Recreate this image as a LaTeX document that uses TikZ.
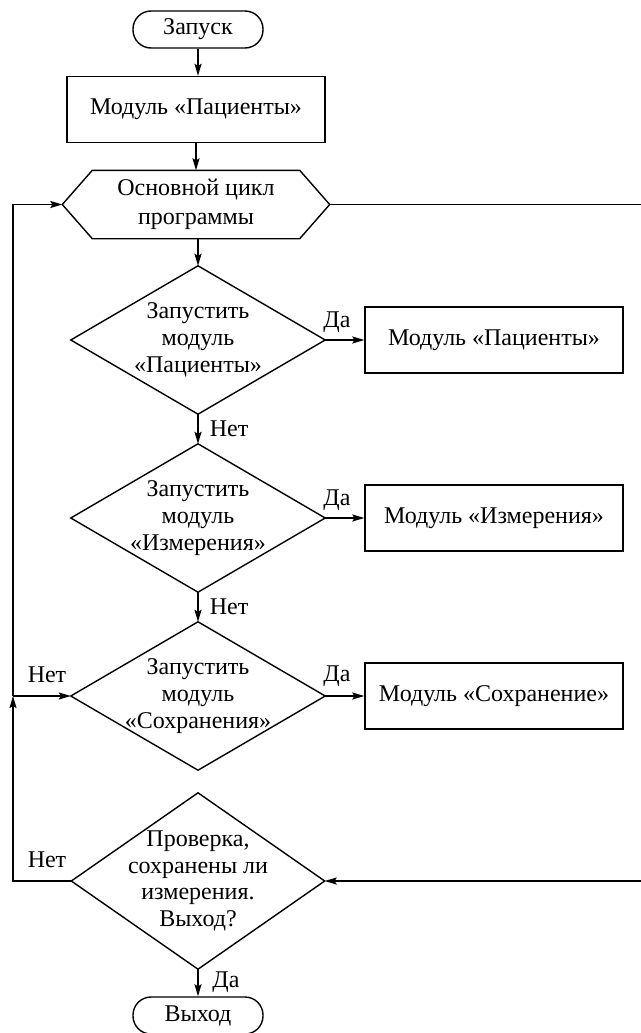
\documentclass[tikz,border=0pt]{standalone}
\usepackage{fontspec}
\setmainfont{Liberation Serif}
\usetikzlibrary{arrows.meta}
\begin{document}
\begin{tikzpicture}[x=1pt,y=1pt, line width=1.4pt,
  every node/.style={font=\fontsize{24}{26.7}\selectfont},
  term/.style={draw, rectangle, rounded corners=18pt, minimum width=130pt, minimum height=37pt, inner sep=0pt},
  proc/.style={draw, rectangle, minimum width=258pt, minimum height=66pt, inner sep=0pt},
  dia/.style={rectangle, minimum width=253pt, minimum height=147pt, inner sep=0pt, align=center},
  hexa/.style={rectangle, minimum width=266pt, minimum height=67pt, inner sep=0pt, align=center, font=\fontsize{24}{29}\selectfont},
  lbl/.style={inner sep=0pt},
  arr/.style={-{Stealth[length=12pt,width=7pt,inset=2pt]}},
]
\useasboundingbox (0,0) rectangle (640,-1033);

\node[term] (start) at (198,-29.5) {Запуск};
\node[proc] (p0) at (196,-109.5) {Модуль «Пациенты»};
\node[hexa] (hex) at (196,-204.5) {Основной цикл\\программы};
\draw (hex.west) -- ([xshift=30pt]hex.north west) -- ([xshift=-30pt]hex.north east) -- (hex.east)
      -- ([xshift=-30pt]hex.south east) -- ([xshift=30pt]hex.south west) -- cycle;

\node[dia] (d1) at (198,-340) {Запустить\\модуль\\«Пациенты»};
\node[dia] (d2) at (198,-518) {Запустить\\модуль\\«Измерения»};
\node[dia] (d3) at (198,-696) {Запустить\\модуль\\«Сохранения»};
\node[dia, minimum height=175pt, minimum width=252pt] (d4) at (198,-881) {Проверка,\\сохранены ли\\измерения.\\Выход?};
\foreach \n in {d1,d2,d3,d4}
  \draw (\n.north) -- (\n.east) -- (\n.south) -- (\n.west) -- cycle;

\node[proc] (m1) at (494,-340) {Модуль «Пациенты»};
\node[proc] (m2) at (494,-518) {Модуль «Измерения»};
\node[proc] (m3) at (494,-696) {Модуль «Сохранение»};

\node[term] (stop) at (198,-1015.5) {Выход};

% vertical flow
\draw[arr] (start.south) -- (start.south |- p0.north);
\draw[arr] (p0.south) -- (p0.south |- hex.north);
\draw[arr] (d1.north |- hex.south) -- (d1.north);
\draw[arr] (d1.south) -- (d2.north);
\draw[arr] (d2.south) -- (d3.north);
\draw[arr] (d4.south) -- (stop.north);

% yes branches
\draw[arr] (d1.east) -- (m1.west);
\draw[arr] (d2.east) -- (m2.west);
\draw[arr] (d3.east) -- (m3.west);

% right loop
\draw[arr] (hex.east) -- ++(325,0) |- (d4.east);

% left loop
\coordinate (jn) at (13,-696);
\draw[arr] (d4.west) -| (jn);
\draw[arr] (jn) |- (hex.west);
\draw[arr] (jn) -- (d3.west);

% labels
\node[lbl] (y1) at (337,-322) {Да};
\node[lbl] (y2) at (337,-500) {Да};
\node[lbl] (y3) at (337,-676) {Да};
\node[lbl] (n1) at (229,-429) {Нет};
\node[lbl] (n2) at (229,-607) {Нет};
\node[lbl] (n3) at (47,-675) {Нет};
\node[lbl] (n4) at (47,-860) {Нет};
\node[lbl] (y4) at (226,-982) {Да};
\end{tikzpicture}
\end{document}
